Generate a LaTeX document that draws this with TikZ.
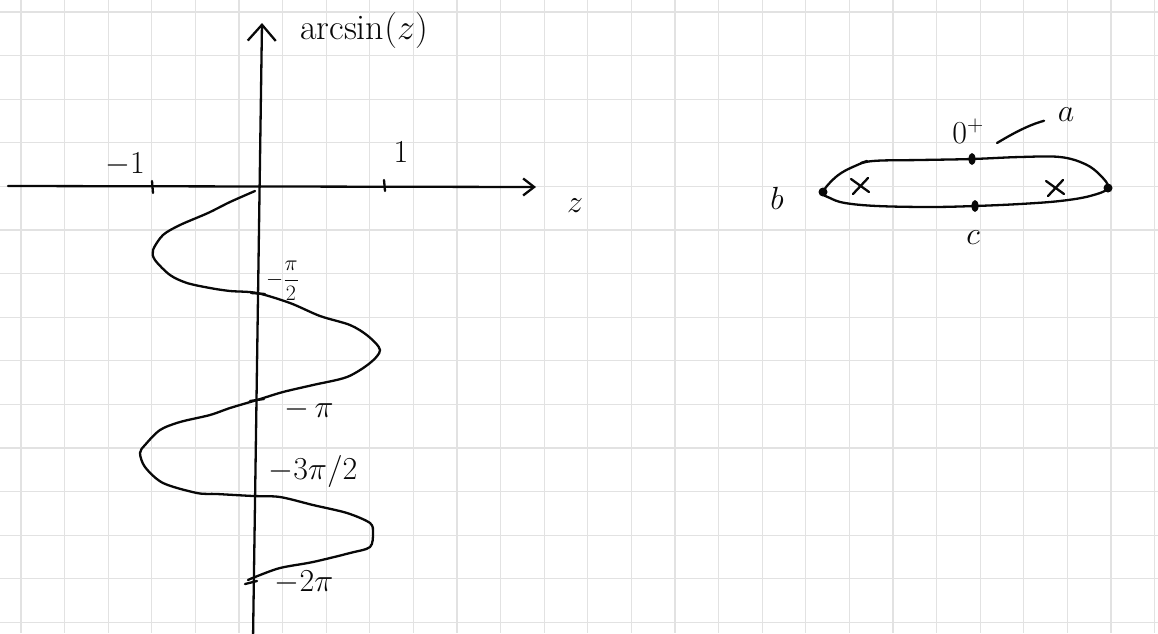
\RequirePackage{fix-cm}
\documentclass[tikz,border=0pt]{standalone}
\usepackage{amsmath,amssymb}
\usepackage{tikz}
\usetikzlibrary{arrows.meta,calc,shapes.geometric}
\definecolor{gridGray}{RGB}{226, 226, 226}
\definecolor{inkBlack}{RGB}{8, 8, 8}

\begin{document}
\begin{tikzpicture}[x=1pt, y=-1pt,
  gridline/.style={gridGray, line width=1.3pt},
  ink/.style={inkBlack, line width=2.3pt, line cap=round, line join=round},
  lbl/.style={inkBlack, inner sep=0pt, font=\fontsize{32}{38}\selectfont},
  pin/.style={inkBlack, circle, fill, inner sep=0pt, minimum size=9pt}]
  \clip (0,0) rectangle (1158,633);
  \fill[white] (0,0) rectangle (1158,633);

  % 0. Grid paper
  \foreach \i in {0,...,26}
    \draw[gridline] ({21+43.6*\i},0) -- ++(0,633);
  \foreach \j in {0,...,14}
    \draw[gridline] (0,{12+43.6*\j}) -- ++(1158,0);

  % 1. Axes of arcsin(z)
  \draw[ink, -{Straight Barb[length=11pt, width=17pt]}] (8,186) -- (536,187);
  \draw[ink, -{Straight Barb[length=16pt, width=28pt]}] (253,640) -- (262,23);
  \draw[ink] (152,181) -- (153,193);
  \draw[ink] (384,180) -- (385,191);
  \node[lbl, font=\fontsize{36}{42}\selectfont] (arcsinLbl) at (364,30) {arcsin$(z)$};
  \node[lbl] (zLbl) at (575,206) {$z$};
  \node[lbl] (minusOne) at (125,165) {$-1$};
  \node[lbl] (plusOne) at (401,152) {$1$};

  % 2. Branches of the curve
  \draw[ink] plot[smooth, tension=0.5] coordinates {
    (255,191) (230,202) (208,213) (180,225) (163,235) (153,250) (155,260)
    (170,275) (187,283) (210,288) (230,291) (257,293) (290,303)
    (320,316) (350,325) (368,336) (380,350) (370,363) (347,377) (313,385)
    (283,392) (257,400) (230,408) (210,415) (180,422) (160,430) (145,445)
    (140,453) (145,467) (163,483) (197,493) (217,494) (253,496) (280,497)
    (313,505) (347,513) (370,523) (373,533) (370,547) (350,553) (313,562)
    (280,568) (255,577) (248,580)};
  \draw[ink] (251,293) -- (265,294);
  \draw[ink] (250,401) -- (264,399);
  \draw[ink] (245,584) -- (257,581);
  \node[lbl, anchor=west, font=\fontsize{22}{26}\selectfont] (halfPi) at (266,281) {$-\dfrac{\pi}{2}$};
  \node[lbl] (onePi) at (309,409) {$-\,\pi$};
  \node[lbl] (threeHalfPi) at (313,471) {$-3\pi/2$};
  \node[lbl] (twoPi) at (304,583) {$-2\pi$};

  % 3. Contour round the cut
  \coordinate (ptB) at (823,192);
  \coordinate (ptD) at (1108,188);
  \coordinate (ptA) at (972,159);
  \coordinate (ptC) at (975,206);
  \draw[ink] plot[smooth cycle, tension=0.6] coordinates {
    (ptB) (837,176) (855,166) (873,161) (920,160) (ptA) (1020,157) (1060,157)
    (1085,164) (1100,175) (ptD) (1090,196) (1060,201) (1020,204) (ptC)
    (930,207) (877,206) (845,203) (830,198)};
  \draw[ink] (861,163) -- (867,161);
  \foreach \p in {ptB,ptD} \node[pin] at (\p) {};
  \foreach \p in {ptA,ptC} \node[pin, ellipse, minimum width=7pt, minimum height=12pt] at (\p) {};
  % poles
  \foreach \cx/\cy in {860/186, 1055/188} {
    \draw[ink] (\cx-9,\cy-7) -- (\cx+9,\cy+6);
    \draw[ink] (\cx-7,\cy+8) -- (\cx+8,\cy-8);
  }
  \node[lbl] (zeroPlus) at (968,131) {$0^+$};
  \node[lbl] (aLbl) at (1066,115) {$a$};
  \node[lbl] (bLbl) at (777,198) {$b$};
  \node[lbl] (cLbl) at (973,238) {$c$};
  \node[lbl] (dLbl) at (1168,200) {$d$};
  \coordinate (aTail) at (997,143);
  \draw[ink, shorten >=14pt] (aTail) to[bend left=8] (aLbl);
\end{tikzpicture}
\end{document}
